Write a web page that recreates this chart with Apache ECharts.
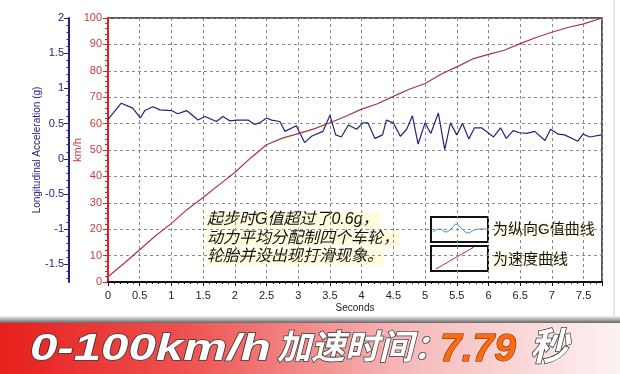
<!DOCTYPE html>
<html>
<head>
<meta charset="utf-8">
<script src="https://cdn.jsdelivr.net/npm/echarts@6/dist/echarts.min.js"></script>
<style>
  html, body { margin: 0; padding: 0; background: #fff; }
  #chart { width: 620px; height: 374px; }
</style>
</head>
<body>
<div id="chart"></div>
<script>
// 车速曲线 (km/h)
var speedTime = [0, 0.25, 0.5, 0.75, 1, 1.25, 1.5, 1.75, 2, 2.25, 2.5, 2.75, 3, 3.25, 3.5, 3.75,
  4, 4.25, 4.5, 4.75, 5, 5.25, 5.5, 5.75, 6, 6.25, 6.5, 6.75, 7, 7.25, 7.5, 7.79]
var speedKmh = [2, 7, 12.2, 17.5, 22.2, 27.5, 32, 36.8, 41.5, 47, 52, 54.5, 56.2, 58, 60.3, 62.8,
  65.5, 67.5, 70.3, 73, 75.2, 78.7, 81.5, 84.5, 86.2, 87.8, 90.3, 92.6, 94.6, 96.4, 97.8, 100]
// 纵向G值曲线 (g)
var accelTime = [0, 0.21, 0.39, 0.51, 0.58, 0.71, 0.82, 1.0, 1.1, 1.24, 1.42, 1.53, 1.71, 1.81, 1.92,
  2.03, 2.21, 2.31, 2.39, 2.5, 2.58, 2.71, 2.79, 2.97, 3.1, 3.21, 3.39, 3.5, 3.59, 3.68, 3.79, 3.92,
  4.02, 4.1, 4.21, 4.33, 4.39, 4.5, 4.61, 4.71, 4.8, 4.89, 5.0, 5.09, 5.21, 5.31, 5.4, 5.5, 5.59,
  5.69, 5.78, 5.89, 6.08, 6.19, 6.28, 6.39, 6.49, 6.6, 6.73, 6.89, 6.98, 7.1, 7.2, 7.41, 7.49, 7.6, 7.78]
var accelG = [0.56, 0.79, 0.72, 0.58, 0.685, 0.74, 0.695, 0.685, 0.64, 0.685, 0.55, 0.6, 0.53, 0.6, 0.54,
  0.55, 0.55, 0.49, 0.51, 0.58, 0.55, 0.53, 0.39, 0.47, 0.23, 0.32, 0.39, 0.62, 0.34, 0.31, 0.48, 0.42,
  0.51, 0.51, 0.29, 0.34, 0.55, 0.51, 0.32, 0.42, 0.61, 0.21, 0.51, 0.36, 0.65, 0.13, 0.51, 0.34, 0.5,
  0.28, 0.44, 0.44, 0.31, 0.44, 0.29, 0.4, 0.37, 0.36, 0.39, 0.26, 0.42, 0.35, 0.34, 0.25, 0.35, 0.31, 0.34]
var accelLabels = [-1.5, -1, -0.5, 0, 0.5, 1, 1.5, 2]
var accelMinor = []
for (var i = -17; i <= 20; i++) accelMinor.push(i / 10)
var noteLines = ['起步时G值超过了0.6g，', '动力平均分配制四个车轮，', '轮胎并没出现打滑现象。']
var legendNames = ['为纵向G值曲线', '为速度曲线']

var chart = echarts.init(document.getElementById('chart'))
var navy = '#23237f'
var red = '#c83a3a'
var cjk = 'Liberation Sans, Noto Sans CJK SC'
var bannerText = {
  fill: '#fff', verticalAlign: 'middle', stroke: '#3a3a3a', lineWidth: 1.5,
  shadowColor: 'rgba(0,0,0,0.6)', shadowBlur: 2, shadowOffsetX: 2, shadowOffsetY: 2
}

chart.setOption({
  animation: false,
  grid: {
    left: 108, right: 18, top: 18, bottom: 92,
    show: true, borderColor: '#222', borderWidth: 1.5, backgroundColor: '#fff'
  },
  xAxis: {
    type: 'value', min: 0, max: 7.79, interval: 0.5,
    name: 'Seconds', nameLocation: 'middle', nameGap: 21, nameMoveOverlap: false,
    nameTextStyle: { color: '#222', fontSize: 10, fontFamily: 'Liberation Sans' },
    axisLine: { lineStyle: { color: '#111', width: 2 } },
    axisTick: { lineStyle: { color: '#111' }, length: 4 },
    minorTick: { show: true, splitNumber: 5, length: 2, lineStyle: { color: '#111' } },
    axisLabel: { color: '#222', fontSize: 11, fontFamily: 'Liberation Sans', showMaxLabel: false,
      formatter: function (v) { return v > 7.6 ? '' : v } },
    splitLine: { show: true, lineStyle: { color: '#8a8a8a', type: [3, 3] } }
  },
  yAxis: [
    {
      type: 'value', min: 0, max: 100, interval: 10, position: 'left',
      name: 'km/h', nameLocation: 'middle', nameRotate: 90, nameGap: 25, nameMoveOverlap: false,
      nameTextStyle: { color: red, fontSize: 11, fontFamily: 'Liberation Sans' },
      axisLine: { show: true, lineStyle: { color: '#e02020', width: 2 } },
      axisTick: { lineStyle: { color: '#e02020' }, length: 5 },
      minorTick: { show: true, splitNumber: 5, length: 3, lineStyle: { color: '#e02020' } },
      axisLabel: { color: red, fontSize: 11, fontFamily: 'Liberation Sans', margin: 6 },
      splitLine: { show: true, lineStyle: { color: '#8a8a8a', type: [3, 3] } }
    },
    {
      type: 'value', min: -1.75, max: 2, interval: 0.25, position: 'left', offset: 39,
      name: 'Longitudinal Acceleration (g)', nameLocation: 'middle', nameRotate: 90, nameGap: 27,
      nameMoveOverlap: false,
      nameTextStyle: { color: navy, fontSize: 10, fontFamily: 'Liberation Sans' },
      axisLine: { show: true, lineStyle: { color: navy, width: 2 } },
      axisTick: { customValues: accelLabels, length: 5, lineStyle: { color: navy } },
      axisLabel: { customValues: accelLabels, color: navy, fontSize: 11, fontFamily: 'Liberation Sans', margin: 5 },
      splitLine: { show: false }
    },
    {
      type: 'value', min: -1.75, max: 2, interval: 0.25, position: 'left', offset: 39,
      axisLine: { show: false },
      axisTick: { customValues: accelMinor, length: 2.5, lineStyle: { color: navy } },
      axisLabel: { show: false },
      splitLine: { show: false }
    }
  ],
  series: [
    {
      name: '纵向G值', type: 'line', yAxisIndex: 1, symbol: 'none',
      lineStyle: { color: navy, width: 1.2 },
      data: accelTime.map(function (t, i) { return [t, accelG[i]] })
    },
    {
      name: '速度', type: 'line', yAxisIndex: 0, symbol: 'none',
      lineStyle: { color: '#a8354a', width: 1.2 },
      data: speedTime.map(function (t, i) { return [t, speedKmh[i]] })
    }
  ],
  graphic: [
    // 注释文字
    { type: 'group', left: 206, top: 212, children: noteLines.map(function (s, i) {
      return { type: 'text', x: 0, y: i * 18.5, style: {
        text: s, fill: '#111', font: 'italic 16px ' + cjk,
        backgroundColor: 'rgba(255,251,215,0.9)', padding: [0, 1]
      } }
    }) },
    // 图例
    { type: 'rect', shape: { x: 431, y: 217, width: 57, height: 25 }, style: { fill: '#fff', stroke: '#111', lineWidth: 2 } },
    { type: 'rect', shape: { x: 431, y: 246, width: 57, height: 25 }, style: { fill: '#fff', stroke: '#111', lineWidth: 2 } },
    { type: 'polyline', shape: { points: [[433, 232], [440, 229], [446, 232], [452, 228], [456, 224], [462, 229], [468, 233], [474, 230], [480, 229], [486, 229]], smooth: 0.4 },
      style: { stroke: '#3a8cc4', lineWidth: 1, fill: null } },
    { type: 'line', shape: { x1: 436, y1: 269, x2: 474, y2: 247 }, style: { stroke: '#b03050', lineWidth: 1 } },
    { type: 'text', x: 493, y: 230, style: { text: legendNames[0], fill: '#111', font: '15px ' + cjk, verticalAlign: 'middle',
      backgroundColor: 'rgba(255,251,215,0.6)' } },
    { type: 'text', x: 493, y: 260, style: { text: legendNames[1], fill: '#111', font: '15px ' + cjk, verticalAlign: 'middle',
      backgroundColor: 'rgba(255,251,215,0.6)' } },
    // 右侧边框
    { type: 'line', shape: { x1: 614, y1: 0, x2: 614, y2: 316 }, style: { stroke: '#ccc', lineWidth: 1 } },
    // 底部横幅
    { type: 'rect', shape: { x: 0, y: 316, width: 620, height: 7 }, style: {
      fill: new echarts.graphic.LinearGradient(0, 0, 0, 1, [
        { offset: 0, color: '#f4f4f4' }, { offset: 1, color: '#666' }
      ]) } },
    { type: 'rect', shape: { x: 0, y: 323, width: 620, height: 51 }, style: {
      fill: new echarts.graphic.LinearGradient(0, 0, 1, 0, [
        { offset: 0, color: '#e61f1c' }, { offset: 0.3, color: '#ee5250' },
        { offset: 0.65, color: '#f6b8b8' }, { offset: 1, color: '#fdf2f2' }
      ]) } },
    { type: 'text', x: 30, y: 350, scaleX: 1.33, style: Object.assign({ text: '0-100km/h', font: 'italic bold 37px ' + cjk }, bannerText) },
    { type: 'text', x: 277, y: 350, style: Object.assign({ text: '加速时间：', font: 'italic bold 34px ' + cjk }, bannerText) },
    { type: 'text', x: 440, y: 350, style: Object.assign({}, bannerText, { text: '7.79', fill: '#ff6a10', font: 'italic bold 39px ' + cjk,
      stroke: '#5a2400', lineWidth: 1, shadowColor: 'rgba(0,0,0,0.4)' }) },
    { type: 'text', x: 530, y: 350, style: Object.assign({ text: '秒', font: 'italic bold 38px ' + cjk }, bannerText) }
  ]
})
</script>
</body>
</html>
